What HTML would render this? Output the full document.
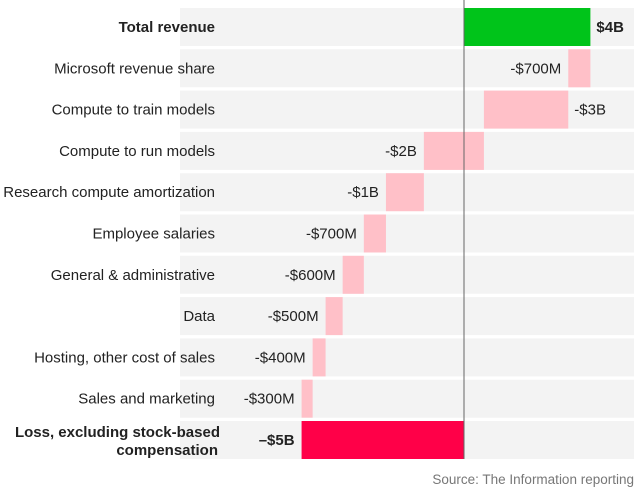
<!DOCTYPE html>
<html><head><meta charset="utf-8"><style>
body{margin:0;width:640px;height:490px;background:#fff;font-family:"Liberation Sans",sans-serif;overflow:hidden}
svg text{font-family:"Liberation Sans",sans-serif;font-size:15px;fill:#222}
</style></head><body>
<svg id="chart" width="640" height="490">
<g id="rows"></g>
<text x="634" y="484" text-anchor="end" style="font-size:13.5px;fill:#777">Source:  The Information reporting</text>
</svg>
<script>
const categories=["Total revenue","Microsoft revenue share","Compute to train models","Compute to run models","Research compute amortization","Employee salaries","General & administrative","Data","Hosting, other cost of sales","Sales and marketing","Loss, excluding stock-based compensation"];
const values=[4.0,-0.7,-2.67,-1.9,-1.2,-0.7,-0.67,-0.54,-0.41,-0.35];
const valueLabels=["$4B","-$700M","-$3B","-$2B","-$1B","-$700M","-$600M","-$500M","-$400M","-$300M","\u2013$5B"];
const labelRight=[true,false,true,false,false,false,false,false,false,false,false];
const x0=464, k=31.6;
const xs=v=>x0+v*k;
const rowY=i=>8+i*41.3;
const g=document.getElementById('rows');
const NS='http://www.w3.org/2000/svg';
function mk(t,a){const e=document.createElementNS(NS,t);for(const n in a)e.setAttribute(n,a[n]);return e;}
let cum=0;
const total=values.reduce((a,b)=>a+b,0);
for(let i=0;i<categories.length;i++){
  const y=rowY(i),h=38;
  const bg=mk('rect',{x:180,y:y,width:454,height:h,fill:'#f3f3f3'});
  
  
  g.appendChild(bg);
  let a,b,col;
  if(i<values.length){a=cum;b=cum+values[i];cum=b;col=i==0?'#00c41a':'#ffc0c8';}
  else{a=0;b=total;col='#ff0048';}
  const L=Math.min(xs(a),xs(b)),R=Math.max(xs(a),xs(b));
  const bar=mk('rect',{x:L,y:y,width:R-L,height:h,fill:col});
  
  
  g.appendChild(bar);
  const bold=(i==0||i==categories.length-1);
  if(i==categories.length-1){
    const t1=mk('text',{x:220,y:y+16,'text-anchor':'end','font-weight':'bold'});t1.textContent='Loss, excluding stock-based';
    g.appendChild(t1);
    const t2=mk('text',{x:218,y:y+34,'text-anchor':'end','font-weight':'bold'});t2.textContent='compensation';
    g.appendChild(t2);
  }else{
    const t=mk('text',{x:215,y:y+24,'text-anchor':'end'});
    if(bold)t.setAttribute('font-weight','bold');
    t.textContent=categories[i];
    g.appendChild(t);
  }
  const vl=labelRight[i]?mk('text',{x:R+6,y:y+24}):mk('text',{x:L-7,y:y+24,'text-anchor':'end'});
  if(bold)vl.setAttribute('font-weight','bold');
  vl.textContent=valueLabels[i];
  g.appendChild(vl);
}
const ax=mk('line',{x1:x0,x2:x0,y1:0,y2:rowY(categories.length-1)+38,stroke:'#666','stroke-width':1});


g.appendChild(ax);
</script>
</body></html>
